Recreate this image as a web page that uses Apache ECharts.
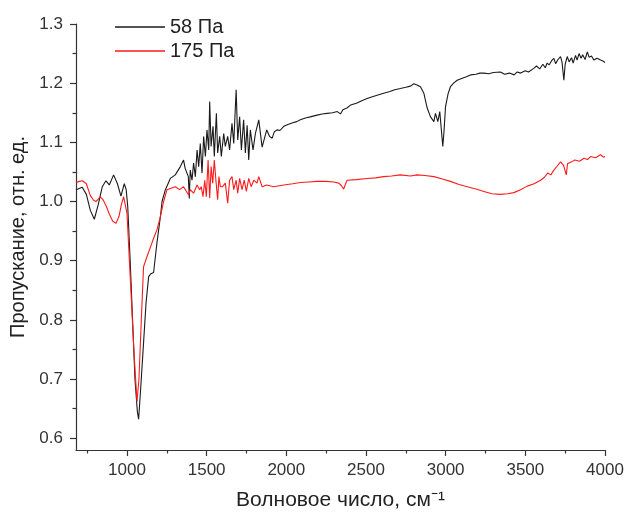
<!DOCTYPE html>
<html>
<head>
<meta charset="utf-8">
<script src="https://cdn.jsdelivr.net/npm/echarts@6/dist/echarts.min.js"></script>
<style>html,body{margin:0;padding:0;background:#fff}#c{width:627px;height:517px}</style>
</head>
<body>
<div id="c"></div>
<script>
const seriesNames = ['58 Па', '175 Па'];
const xTickLabels = [1000, 1500, 2000, 2500, 3000, 3500, 4000];
const xMinorTicks = [750, 1250, 1750, 2250, 2750, 3250, 3750];
const yTickLabels = [0.6, 0.7, 0.8, 0.9, 1.0, 1.1, 1.2, 1.3];
const yMinorTicks = [0.65, 0.75, 0.85, 0.95, 1.05, 1.15, 1.25];

const blackWave = [682,700,719,745,770,795,820,845,868,889,916,940,962,983,995,1005,1020,1035,1050,1065,1073,1085,1104,1120,1136,1150,1167,1188,1210,1220,1241,1272,1303,1335,1355,1365,1385,1391,1397,1408,1418,1429,1440,1450,1460,1471,1481,1492,1502,1513,1519,1528,1540,1548,1561,1569,1582,1592,1607,1617,1632,1644,1659,1670,1685,1695,1707,1718,1732,1743,1754,1764,1774,1791,1806,1827,1848,1877,1895,1911,1925,1942,1960,1984,2010,2040,2065,2088,2120,2150,2193,2225,2256,2290,2320,2340,2355,2380,2403,2440,2470,2507,2540,2575,2611,2650,2680,2716,2750,2779,2800,2820,2842,2863,2884,2905,2926,2936,2951,2963,2975,2982,2990,2999,3015,3030,3050,3072,3100,3130,3156,3190,3215,3240,3270,3300,3344,3370,3400,3430,3449,3470,3500,3520,3553,3570,3590,3610,3625,3637,3650,3665,3679,3690,3705,3721,3730,3742,3750,3763,3775,3790,3800,3815,3825,3837,3850,3860,3875,3889,3900,3915,3930,3950,3972,3990,4000];
const blackT = [1.020,1.022,1.024,1.012,0.985,0.970,0.995,1.025,1.035,1.028,1.045,1.030,1.009,1.030,1.020,0.990,0.900,0.800,0.700,0.645,0.632,0.680,0.761,0.830,0.873,0.878,0.880,0.930,0.975,1.000,1.020,1.039,1.045,1.059,1.070,1.056,1.042,1.005,1.053,1.036,1.065,1.042,1.087,1.059,1.098,1.048,1.110,1.076,1.121,1.087,1.169,1.093,1.127,1.076,1.149,1.082,1.110,1.076,1.115,1.093,1.110,1.087,1.132,1.098,1.189,1.104,1.143,1.087,1.138,1.082,1.129,1.070,1.121,1.087,1.115,1.138,1.092,1.121,1.110,1.107,1.118,1.121,1.120,1.127,1.130,1.133,1.135,1.138,1.141,1.143,1.146,1.148,1.149,1.150,1.152,1.148,1.155,1.158,1.163,1.166,1.170,1.174,1.177,1.180,1.183,1.186,1.189,1.191,1.193,1.195,1.199,1.197,1.194,1.183,1.158,1.143,1.135,1.149,1.135,1.152,1.115,1.093,1.120,1.160,1.182,1.194,1.200,1.205,1.208,1.211,1.214,1.215,1.217,1.217,1.216,1.218,1.219,1.215,1.217,1.214,1.219,1.217,1.221,1.219,1.225,1.229,1.224,1.232,1.226,1.234,1.231,1.238,1.242,1.233,1.240,1.245,1.236,1.205,1.232,1.245,1.236,1.243,1.234,1.247,1.239,1.250,1.242,1.248,1.240,1.253,1.244,1.246,1.239,1.242,1.239,1.237,1.235];

const redWave = [682,700,720,745,770,790,805,820,832,850,870,890,910,931,950,965,979,990,1000,1015,1030,1045,1063,1075,1090,1104,1126,1150,1170,1188,1210,1230,1251,1272,1303,1330,1355,1387,1397,1418,1440,1456,1466,1477,1488,1498,1509,1519,1528,1538,1548,1558,1569,1577,1586,1600,1617,1632,1644,1659,1670,1685,1695,1707,1722,1736,1749,1764,1779,1796,1816,1827,1848,1877,1921,1984,2040,2088,2140,2193,2250,2298,2329,2345,2360,2372,2382,2440,2507,2560,2611,2660,2716,2779,2821,2870,2926,2980,3030,3080,3135,3190,3240,3290,3344,3390,3428,3470,3512,3555,3596,3620,3640,3660,3679,3700,3721,3740,3757,3765,3790,3810,3840,3868,3890,3910,3940,3972,3990,4000];
const redT = [1.032,1.034,1.035,1.030,1.010,1.002,1.000,1.004,1.008,1.003,0.992,0.978,0.967,0.963,0.975,0.995,1.008,1.005,0.980,0.900,0.820,0.740,0.662,0.700,0.800,0.890,0.907,0.925,0.940,0.952,0.975,1.000,1.020,1.022,1.025,1.020,1.025,1.011,1.020,1.014,1.028,1.020,1.025,1.008,1.036,1.008,1.070,1.006,1.059,1.031,1.070,1.036,1.003,1.042,1.025,1.025,1.031,0.997,1.036,1.042,1.020,1.036,1.014,1.039,1.020,1.036,1.017,1.039,1.025,1.036,1.031,1.042,1.025,1.028,1.025,1.028,1.030,1.032,1.033,1.034,1.034,1.033,1.031,1.027,1.021,1.030,1.036,1.037,1.039,1.040,1.042,1.043,1.045,1.043,1.045,1.044,1.042,1.038,1.034,1.029,1.025,1.021,1.017,1.013,1.012,1.013,1.015,1.020,1.026,1.030,1.036,1.041,1.048,1.045,1.053,1.060,1.067,1.061,1.045,1.064,1.067,1.070,1.068,1.073,1.071,1.076,1.074,1.079,1.075,1.076];

const FONT = '"Liberation Sans", Arial, sans-serif';
const chart = echarts.init(document.getElementById('c'), null, {renderer: 'canvas'});
const pairs = (xs, ys) => xs.map((x, i) => [x, ys[i]]);

const axisCol = '#333';
chart.setOption({
  animation: false,
  backgroundColor: '#fff',
  grid: {left: 76, right: 22, top: 24, bottom: 67, containLabel: false, outerBoundsMode: 'none'},
  legend: {
    orient: 'vertical', left: 110, top: 12, itemWidth: 50, itemHeight: 1.5, itemGap: 4,
    icon: 'rect',
    textStyle: {fontFamily: FONT, fontSize: 20, color: '#222'},
    data: seriesNames
  },
  xAxis: [{
    type: 'value', min: 680, max: 4000, position: 'bottom',
    name: 'Волновое число, см⁻¹', nameLocation: 'middle', nameGap: 40,
    nameTextStyle: {fontFamily: FONT, fontSize: 21, color: '#222'},
    axisLine: {show: true, lineStyle: {color: axisCol, width: 1.2}},
    axisTick: {show: true, length: 6, customValues: xTickLabels, lineStyle: {color: axisCol, width: 1.2}},
    axisLabel: {show: true, customValues: xTickLabels, margin: 12, fontFamily: FONT, fontSize: 17, color: '#333',
      formatter: v => String(Math.round(v))},
    splitLine: {show: false}
  }, {
    type: 'value', min: 680, max: 4000, position: 'bottom',
    axisLine: {show: false},
    axisTick: {show: true, length: 3.5, customValues: xMinorTicks, lineStyle: {color: axisCol, width: 1.2}},
    axisLabel: {show: false},
    splitLine: {show: false}
  }],
  yAxis: [{
    type: 'value', min: 0.58, max: 1.3, position: 'left',
    name: 'Пропускание, отн. ед.', nameLocation: 'middle', nameGap: 48,
    nameTextStyle: {fontFamily: FONT, fontSize: 20, color: '#222'},
    axisLine: {show: true, lineStyle: {color: axisCol, width: 1.2}},
    axisTick: {show: true, length: 6, customValues: yTickLabels, lineStyle: {color: axisCol, width: 1.2}},
    axisLabel: {show: true, customValues: yTickLabels, margin: 13, fontFamily: FONT, fontSize: 17, color: '#333',
      formatter: v => Number(v).toFixed(1)},
    splitLine: {show: false}
  }, {
    type: 'value', min: 0.58, max: 1.3, position: 'left',
    axisLine: {show: false},
    axisTick: {show: true, length: 3.5, customValues: yMinorTicks, lineStyle: {color: axisCol, width: 1.2}},
    axisLabel: {show: false},
    splitLine: {show: false}
  }],
  series: [{
    name: seriesNames[0], type: 'line', xAxisIndex: 0, yAxisIndex: 0,
    showSymbol: false, symbol: 'none',
    lineStyle: {color: '#1a1a1a', width: 1.1},
    itemStyle: {color: '#1a1a1a'},
    data: pairs(blackWave, blackT)
  }, {
    name: seriesNames[1], type: 'line', xAxisIndex: 0, yAxisIndex: 0,
    showSymbol: false, symbol: 'none',
    lineStyle: {color: '#ff1a1a', width: 1.1},
    itemStyle: {color: '#ff1a1a'},
    data: pairs(redWave, redT)
  }]
});
</script>
</body>
</html>
